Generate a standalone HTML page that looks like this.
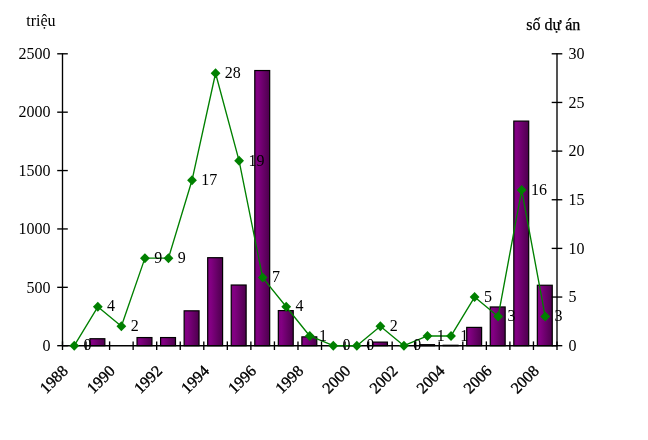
<!DOCTYPE html>
<html lang="vi"><head><meta charset="utf-8"><title>chart</title>
<style>html,body{margin:0;padding:0;background:#fff;overflow:hidden}body{width:648px;height:440px;position:relative}</style></head>
<body>
<svg width="648" height="440" viewBox="0 0 648 440" style="display:block;position:absolute;left:0;top:0">
<defs><linearGradient id="g" x1="0" y1="0" x2="1" y2="0"><stop offset="0" stop-color="#7e007e"/><stop offset="0.2" stop-color="#830083"/><stop offset="1" stop-color="#4c004c"/></linearGradient></defs>
<rect width="648" height="440" fill="#fff"/>
<rect x="89.95" y="338.73" width="14.90" height="6.97" fill="url(#g)" stroke="#000" stroke-width="1.2"/>
<rect x="137.04" y="337.56" width="14.90" height="8.14" fill="url(#g)" stroke="#000" stroke-width="1.2"/>
<rect x="160.59" y="337.56" width="14.90" height="8.14" fill="url(#g)" stroke="#000" stroke-width="1.2"/>
<rect x="184.14" y="310.82" width="14.90" height="34.88" fill="url(#g)" stroke="#000" stroke-width="1.2"/>
<rect x="207.69" y="257.70" width="14.90" height="88.00" fill="url(#g)" stroke="#000" stroke-width="1.2"/>
<rect x="231.23" y="285.02" width="14.90" height="60.68" fill="url(#g)" stroke="#000" stroke-width="1.2"/>
<rect x="254.78" y="70.53" width="14.90" height="275.17" fill="url(#g)" stroke="#000" stroke-width="1.2"/>
<rect x="278.33" y="310.59" width="14.90" height="35.11" fill="url(#g)" stroke="#000" stroke-width="1.2"/>
<rect x="301.88" y="336.86" width="14.90" height="8.84" fill="url(#g)" stroke="#000" stroke-width="1.2"/>
<rect x="372.52" y="342.11" width="14.90" height="3.59" fill="url(#g)" stroke="#000" stroke-width="1.2"/>
<rect x="419.61" y="344.68" width="14.90" height="1.02" fill="url(#g)" stroke="#000" stroke-width="1.2"/>
<rect x="443.16" y="345.27" width="14.90" height="0.43" fill="url(#g)" stroke="#000" stroke-width="1.2"/>
<rect x="466.71" y="327.40" width="14.90" height="18.30" fill="url(#g)" stroke="#000" stroke-width="1.2"/>
<rect x="490.26" y="306.97" width="14.90" height="38.73" fill="url(#g)" stroke="#000" stroke-width="1.2"/>
<rect x="513.80" y="121.09" width="14.90" height="224.61" fill="url(#g)" stroke="#000" stroke-width="1.2"/>
<rect x="537.35" y="285.25" width="14.90" height="60.45" fill="url(#g)" stroke="#000" stroke-width="1.2"/>
<g stroke="#000" stroke-width="1.35" fill="none">
<line x1="62.5" y1="53.199999999999996" x2="62.5" y2="346.3"/>
<line x1="557.0" y1="53.199999999999996" x2="557.0" y2="346.3"/>
<line x1="62.5" y1="345.7" x2="557.0" y2="345.7"/>
<line x1="57.2" y1="345.70" x2="67.8" y2="345.70"/>
<line x1="57.2" y1="287.32" x2="67.8" y2="287.32"/>
<line x1="57.2" y1="228.94" x2="67.8" y2="228.94"/>
<line x1="57.2" y1="170.56" x2="67.8" y2="170.56"/>
<line x1="57.2" y1="112.18" x2="67.8" y2="112.18"/>
<line x1="57.2" y1="53.80" x2="67.8" y2="53.80"/>
<line x1="551.7" y1="345.70" x2="562.3" y2="345.70"/>
<line x1="551.7" y1="297.05" x2="562.3" y2="297.05"/>
<line x1="551.7" y1="248.40" x2="562.3" y2="248.40"/>
<line x1="551.7" y1="199.75" x2="562.3" y2="199.75"/>
<line x1="551.7" y1="151.10" x2="562.3" y2="151.10"/>
<line x1="551.7" y1="102.45" x2="562.3" y2="102.45"/>
<line x1="551.7" y1="53.80" x2="562.3" y2="53.80"/>
<line x1="62.50" y1="341.4" x2="62.50" y2="350.0"/>
<line x1="86.05" y1="341.4" x2="86.05" y2="350.0"/>
<line x1="109.60" y1="341.4" x2="109.60" y2="350.0"/>
<line x1="133.14" y1="341.4" x2="133.14" y2="350.0"/>
<line x1="156.69" y1="341.4" x2="156.69" y2="350.0"/>
<line x1="180.24" y1="341.4" x2="180.24" y2="350.0"/>
<line x1="203.79" y1="341.4" x2="203.79" y2="350.0"/>
<line x1="227.33" y1="341.4" x2="227.33" y2="350.0"/>
<line x1="250.88" y1="341.4" x2="250.88" y2="350.0"/>
<line x1="274.43" y1="341.4" x2="274.43" y2="350.0"/>
<line x1="297.98" y1="341.4" x2="297.98" y2="350.0"/>
<line x1="321.52" y1="341.4" x2="321.52" y2="350.0"/>
<line x1="345.07" y1="341.4" x2="345.07" y2="350.0"/>
<line x1="368.62" y1="341.4" x2="368.62" y2="350.0"/>
<line x1="392.17" y1="341.4" x2="392.17" y2="350.0"/>
<line x1="415.71" y1="341.4" x2="415.71" y2="350.0"/>
<line x1="439.26" y1="341.4" x2="439.26" y2="350.0"/>
<line x1="462.81" y1="341.4" x2="462.81" y2="350.0"/>
<line x1="486.36" y1="341.4" x2="486.36" y2="350.0"/>
<line x1="509.90" y1="341.4" x2="509.90" y2="350.0"/>
<line x1="533.45" y1="341.4" x2="533.45" y2="350.0"/>
<line x1="557.00" y1="341.4" x2="557.00" y2="350.0"/>
</g>
<polyline fill="none" stroke="#008000" stroke-width="1.35" stroke-linejoin="round" points="74.27,345.70 97.82,306.78 121.37,326.24 144.92,258.13 168.46,258.13 192.01,180.29 215.56,73.26 239.11,160.83 262.65,277.59 286.20,306.78 309.75,335.97 333.30,345.70 356.85,345.70 380.39,326.24 403.94,345.70 427.49,335.97 451.04,335.97 474.58,297.05 498.13,316.51 521.68,190.02 545.23,316.51"/>
<polygon fill="#008000" points="69.37,345.70 74.27,340.70 79.17,345.70 74.27,350.70"/>
<polygon fill="#008000" points="92.92,306.78 97.82,301.78 102.72,306.78 97.82,311.78"/>
<polygon fill="#008000" points="116.47,326.24 121.37,321.24 126.27,326.24 121.37,331.24"/>
<polygon fill="#008000" points="140.02,258.13 144.92,253.13 149.82,258.13 144.92,263.13"/>
<polygon fill="#008000" points="163.56,258.13 168.46,253.13 173.36,258.13 168.46,263.13"/>
<polygon fill="#008000" points="187.11,180.29 192.01,175.29 196.91,180.29 192.01,185.29"/>
<polygon fill="#008000" points="210.66,73.26 215.56,68.26 220.46,73.26 215.56,78.26"/>
<polygon fill="#008000" points="234.21,160.83 239.11,155.83 244.01,160.83 239.11,165.83"/>
<polygon fill="#008000" points="257.75,277.59 262.65,272.59 267.55,277.59 262.65,282.59"/>
<polygon fill="#008000" points="281.30,306.78 286.20,301.78 291.10,306.78 286.20,311.78"/>
<polygon fill="#008000" points="304.85,335.97 309.75,330.97 314.65,335.97 309.75,340.97"/>
<polygon fill="#008000" points="328.40,345.70 333.30,340.70 338.20,345.70 333.30,350.70"/>
<polygon fill="#008000" points="351.95,345.70 356.85,340.70 361.75,345.70 356.85,350.70"/>
<polygon fill="#008000" points="375.49,326.24 380.39,321.24 385.29,326.24 380.39,331.24"/>
<polygon fill="#008000" points="399.04,345.70 403.94,340.70 408.84,345.70 403.94,350.70"/>
<polygon fill="#008000" points="422.59,335.97 427.49,330.97 432.39,335.97 427.49,340.97"/>
<polygon fill="#008000" points="446.14,335.97 451.04,330.97 455.94,335.97 451.04,340.97"/>
<polygon fill="#008000" points="469.68,297.05 474.58,292.05 479.48,297.05 474.58,302.05"/>
<polygon fill="#008000" points="493.23,316.51 498.13,311.51 503.03,316.51 498.13,321.51"/>
<polygon fill="#008000" points="516.78,190.02 521.68,185.02 526.58,190.02 521.68,195.02"/>
<polygon fill="#008000" points="540.33,316.51 545.23,311.51 550.13,316.51 545.23,321.51"/>
<g font-family="'Liberation Serif', 'Times New Roman', serif" font-size="16" fill="#000">
<text x="50.6" y="350.90" text-anchor="end">0</text>
<text x="50.6" y="292.52" text-anchor="end">500</text>
<text x="50.6" y="234.14" text-anchor="end">1000</text>
<text x="50.6" y="175.76" text-anchor="end">1500</text>
<text x="50.6" y="117.38" text-anchor="end">2000</text>
<text x="50.6" y="59.00" text-anchor="end">2500</text>
<text x="568.4" y="350.90">0</text>
<text x="568.4" y="302.25">5</text>
<text x="568.4" y="253.60">10</text>
<text x="568.4" y="204.95">15</text>
<text x="568.4" y="156.30">20</text>
<text x="568.4" y="107.65">25</text>
<text x="568.4" y="59.00">30</text>
<text x="83.57" y="350.40">0</text>
<text x="107.12" y="311.48">4</text>
<text x="130.67" y="330.94">2</text>
<text x="154.22" y="262.83">9</text>
<text x="177.76" y="262.83">9</text>
<text x="201.31" y="184.99">17</text>
<text x="224.86" y="77.96">28</text>
<text x="248.41" y="165.53">19</text>
<text x="271.95" y="282.29">7</text>
<text x="295.50" y="311.48">4</text>
<text x="319.05" y="340.67">1</text>
<text x="342.60" y="350.40">0</text>
<text x="366.15" y="350.40">0</text>
<text x="389.69" y="330.94">2</text>
<text x="413.24" y="350.40">0</text>
<text x="436.79" y="340.67">1</text>
<text x="460.34" y="340.67">1</text>
<text x="483.88" y="301.75">5</text>
<text x="507.43" y="321.21">3</text>
<text x="530.98" y="194.72">16</text>
<text x="554.53" y="321.21">3</text>
<text transform="translate(68.87,371.90) rotate(-45)" text-anchor="end" stroke="#000" stroke-width="0.35">1988</text>
<text transform="translate(115.97,371.90) rotate(-45)" text-anchor="end" stroke="#000" stroke-width="0.35">1990</text>
<text transform="translate(163.06,371.90) rotate(-45)" text-anchor="end" stroke="#000" stroke-width="0.35">1992</text>
<text transform="translate(210.16,371.90) rotate(-45)" text-anchor="end" stroke="#000" stroke-width="0.35">1994</text>
<text transform="translate(257.25,371.90) rotate(-45)" text-anchor="end" stroke="#000" stroke-width="0.35">1996</text>
<text transform="translate(304.35,371.90) rotate(-45)" text-anchor="end" stroke="#000" stroke-width="0.35">1998</text>
<text transform="translate(351.45,371.90) rotate(-45)" text-anchor="end" stroke="#000" stroke-width="0.35">2000</text>
<text transform="translate(398.54,371.90) rotate(-45)" text-anchor="end" stroke="#000" stroke-width="0.35">2002</text>
<text transform="translate(445.64,371.90) rotate(-45)" text-anchor="end" stroke="#000" stroke-width="0.35">2004</text>
<text transform="translate(492.73,371.90) rotate(-45)" text-anchor="end" stroke="#000" stroke-width="0.35">2006</text>
<text transform="translate(539.83,371.90) rotate(-45)" text-anchor="end" stroke="#000" stroke-width="0.35">2008</text>
<text x="26.3" y="25.9">triệu</text>
<text x="526.3" y="29.8" stroke="#000" stroke-width="0.25">số dự án</text>
</g>
</svg>
</body></html>
